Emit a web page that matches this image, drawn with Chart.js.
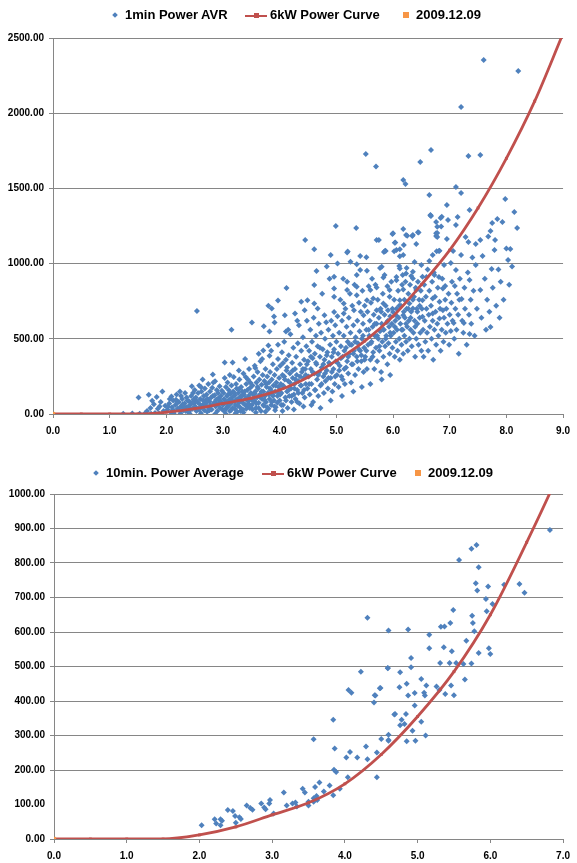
<!DOCTYPE html>
<html>
<head>
<meta charset="utf-8">
<script src="https://cdn.jsdelivr.net/npm/chart.js@4.4.1/dist/chart.umd.min.js"></script>
<style>
body { margin: 0; background: #fff; width: 577px; height: 863px; position: relative; overflow: hidden; }
canvas { position: absolute; left: 0; }
#c1 { top: 0; }
#c2 { top: 440px; }
.lg { position: absolute; font: bold 13px "Liberation Sans", Arial, sans-serif; color: #000; white-space: nowrap; line-height: 14px; }
.dia { position: absolute; width: 4px; height: 4px; background: #4f81bd; transform: rotate(45deg); }
.sq { position: absolute; width: 6px; height: 6px; background: #f79646; }
.ln { position: absolute; height: 2px; background: #c0504d; }
.mk { position: absolute; width: 5px; height: 5px; background: #c0504d; }
</style>
</head>
<body>
<canvas id="c1" width="577" height="440"></canvas>
<canvas id="c2" width="577" height="423"></canvas>

<!-- legends -->
<div class="dia" style="left:113px;top:13px"></div>
<div class="lg" style="left:125px;top:8px">1min Power AVR</div>
<div class="ln" style="left:245px;top:15px;width:22px"></div>
<div class="mk" style="left:254px;top:13px"></div>
<div class="lg" style="left:270px;top:8px">6kW Power Curve</div>
<div class="sq" style="left:403px;top:12px"></div>
<div class="lg" style="left:416px;top:8px">2009.12.09</div>

<div class="dia" style="left:94px;top:471px"></div>
<div class="lg" style="left:106px;top:466px">10min. Power Average</div>
<div class="ln" style="left:262px;top:473px;width:22px"></div>
<div class="mk" style="left:271px;top:471px"></div>
<div class="lg" style="left:287px;top:466px">6kW Power Curve</div>
<div class="sq" style="left:415px;top:470px"></div>
<div class="lg" style="left:428px;top:466px">2009.12.09</div>

<script>
// power curve (kW) read at 0.5 m/s steps
const curveSpeed = [0, 0.5, 1.0, 1.5, 2.0, 2.5, 3.0, 3.5, 4.0, 4.5, 5.0, 5.5, 6.0, 6.5, 7.0, 7.5, 8.0, 8.5, 9.0];
const curvePower = [0, 0, 0, 0, 12, 35, 70, 105, 160, 245, 355, 485, 650, 860, 1090, 1370, 1700, 2080, 2530];

// reference point 2009.12.09
const refPoint = [0, 0];

// 1 min averages: speed, power pairs
const avr1min = [
  1.24,2, 1.40,3, 1.53,1, 1.62,4, 1.73,2, 1.80,6, 1.87,3, 1.51,110, 1.69,128, 1.83,113, 1.93,150, 1.72,40, 1.78,65, 1.85,35, 1.90,80, 1.95,20, 1.98,55, 1.66,20, 1.75,88, 1.88,50,
  2.02,30, 2.05,70, 2.08,10, 2.09,117, 2.10,45, 2.12,90, 2.14,20, 2.16,60, 2.18,130, 2.20,35, 2.22,80, 2.24,150, 2.25,5, 2.27,55, 2.28,100, 2.30,25, 2.32,70, 2.33,140, 2.35,45, 2.36,110, 2.38,15, 2.40,85, 2.41,3, 2.42,60, 2.44,120, 2.45,184, 2.46,35, 2.48,95, 2.49,70, 2.50,160, 2.06,100, 2.13,5, 2.19,75, 2.26,120, 2.31,40, 2.37,90, 2.43,30, 2.47,140, 2.54,685,
  2.03,50, 2.11,25, 2.17,95, 2.23,40, 2.29,65, 2.34,20, 2.39,50, 2.46,75, 2.52,90, 2.58,30, 2.64,60, 2.70,95, 2.76,25, 2.82,120, 2.88,70, 2.94,90,
  2.51,50, 2.52,110, 2.53,20, 2.55,80, 2.56,140, 2.57,35, 2.58,190, 2.59,65, 2.60,100, 2.61,5, 2.62,150, 2.63,45, 2.65,90, 2.66,120, 2.67,25, 2.68,170, 2.69,70, 2.70,55, 2.71,130, 2.72,15, 2.73,100, 2.74,200, 2.75,40, 2.76,85, 2.77,150, 2.78,60, 2.79,110, 2.80,30, 2.81,175, 2.82,262, 2.83,210, 2.84,75, 2.85,125, 2.86,217, 2.87,50, 2.88,95, 2.89,160, 2.90,20, 2.91,140, 2.92,65, 2.93,105, 2.94,185, 2.95,40, 2.96,120, 2.97,80, 2.98,155, 2.99,30, 2.64,230, 2.86,0, 2.61,180, 2.72,80, 2.90,100,
  3.00,60, 3.01,140, 3.02,100, 3.03,240, 3.03,343, 3.04,30, 3.05,180, 3.06,80, 3.07,120, 3.08,210, 3.09,50, 3.10,160, 3.11,95, 3.12,20, 3.13,135, 3.14,70, 3.15,560, 3.15,190, 3.16,110, 3.17,343, 3.17,40, 3.18,150, 3.19,246, 3.20,85, 3.21,125, 3.22,60, 3.23,200, 3.24,170, 3.25,15, 3.26,100, 3.27,140, 3.28,75, 3.29,230, 3.30,45, 3.31,115, 3.32,180, 3.33,90, 3.34,150, 3.35,30, 3.36,270, 3.37,130, 3.38,65, 3.39,366, 3.40,246, 3.40,105, 3.41,200, 3.42,55, 3.43,160, 3.44,85, 3.45,120, 3.46,300, 3.47,40, 3.48,175, 3.49,140, 3.50,95, 3.05,0, 3.22,5, 3.36,10, 3.12,260, 3.28,290, 3.44,230,
  3.02,20, 3.04,75, 3.07,45, 3.09,130, 3.11,65, 3.14,25, 3.16,85, 3.19,140, 3.21,35, 3.23,95, 3.26,55, 3.28,165, 3.31,20, 3.33,120, 3.36,70, 3.38,150, 3.41,35, 3.43,100, 3.46,65, 3.48,210,
  3.51,609, 3.51,60, 3.52,190, 3.53,130, 3.54,250, 3.55,90, 3.56,320, 3.57,306, 3.57,150, 3.58,40, 3.59,210, 3.60,110, 3.61,280, 3.62,170, 3.63,75, 3.64,230, 3.65,130, 3.66,350, 3.67,20, 3.68,195, 3.69,366, 3.69,100, 3.70,260, 3.71,423, 3.71,150, 3.72,583, 3.72,55, 3.73,220, 3.74,120, 3.75,300, 3.76,80, 3.77,180, 3.78,250, 3.79,140, 3.80,720, 3.80,456, 3.80,35, 3.81,210, 3.82,549, 3.82,388, 3.82,100, 3.83,280, 3.84,160, 3.85,60, 3.86,702, 3.86,230, 3.87,130, 3.88,330, 3.89,190, 3.90,649, 3.90,90, 3.91,609, 3.91,260, 3.92,150, 3.93,45, 3.94,210, 3.95,300, 3.96,120, 3.97,755, 3.97,461, 3.97,366, 3.98,180, 3.99,240, 3.58,10, 3.75,15, 3.92,25, 3.63,400, 3.85,420,
  3.52,30, 3.54,85, 3.56,135, 3.59,70, 3.61,180, 3.63,40, 3.66,110, 3.68,150, 3.71,60, 3.73,95, 3.76,200, 3.78,45, 3.81,130, 3.83,170, 3.86,80, 3.88,120, 3.91,50, 3.93,190, 3.96,75, 3.98,140,
  4.00,90, 4.01,320, 4.02,200, 4.03,140, 4.04,410, 4.05,260, 4.06,339, 4.06,60, 4.07,180, 4.08,480, 4.09,657, 4.09,230, 4.10,110, 4.11,549, 4.11,360, 4.12,837, 4.12,290, 4.13,150, 4.14,40, 4.15,220, 4.16,390, 4.17,120, 4.18,270, 4.19,530, 4.20,170, 4.21,80, 4.22,340, 4.23,240, 4.24,440, 4.25,130, 4.26,200, 4.27,668, 4.27,300, 4.28,100, 4.29,380, 4.30,260, 4.31,160, 4.32,470, 4.33,220, 4.34,590, 4.35,70, 4.36,330, 4.37,190, 4.38,746, 4.38,420, 4.39,280, 4.40,140, 4.41,510, 4.42,240, 4.43,360, 4.44,690, 4.44,110, 4.45,1157, 4.45,300, 4.46,200, 4.47,450, 4.48,620, 4.49,757, 4.49,170, 4.50,350, 4.05,20, 4.25,30, 4.42,50, 4.15,560, 4.31,620,
  4.01,130, 4.03,60, 4.06,190, 4.08,250, 4.11,90, 4.13,310, 4.16,160, 4.18,210, 4.21,120, 4.23,290, 4.26,170, 4.28,230, 4.31,80, 4.33,140, 4.36,250, 4.38,190, 4.41,300, 4.43,160, 4.46,260, 4.48,330,
  4.51,250, 4.52,420, 4.53,130, 4.54,560, 4.55,300, 4.56,200, 4.57,480, 4.58,370, 4.59,80, 4.60,640, 4.61,1095, 4.61,857, 4.61,735, 4.61,270, 4.62,400, 4.63,160, 4.64,520, 4.65,330, 4.66,230, 4.67,702, 4.67,450, 4.68,120, 4.69,600, 4.70,280, 4.71,380, 4.72,190, 4.73,540, 4.74,310, 4.75,800, 4.76,430, 4.77,250, 4.78,140, 4.79,657, 4.79,360, 4.80,500, 4.81,220, 4.82,610, 4.83,290, 4.84,410, 4.85,170, 4.86,560, 4.87,340, 4.88,900, 4.89,460, 4.90,1057, 4.90,240, 4.91,620, 4.92,380, 4.93,150, 4.94,520, 4.95,300, 4.96,912, 4.96,835, 4.96,779, 4.96,679, 4.96,430, 4.97,200, 4.98,590, 4.99,1250, 4.99,350, 5.00,480, 4.56,60, 4.72,40, 4.90,90, 4.65,950, 4.83,980,
  4.52,200, 4.55,380, 4.58,280, 4.62,160, 4.64,340, 4.68,260, 4.71,440, 4.74,200, 4.77,330, 4.80,270, 4.83,390, 4.86,240, 4.89,330, 4.92,280, 4.95,410, 4.98,250, 5.02,340, 5.05,290, 5.08,370, 5.11,230, 5.14,420, 5.17,310, 5.21,380, 5.24,460, 5.27,330, 5.30,400, 5.33,480, 5.37,350, 5.40,430, 5.44,390, 5.47,520, 5.50,360,
  5.01,260, 5.02,1001, 5.02,650, 5.03,400, 5.04,180, 5.05,540, 5.06,320, 5.07,760, 5.08,450, 5.09,250, 5.10,620, 5.11,380, 5.12,900, 5.13,735, 5.13,668, 5.13,520, 5.14,300, 5.15,200, 5.16,700, 5.17,440, 5.18,580, 5.19,1073, 5.19,879, 5.19,824, 5.19,350, 5.20,1080, 5.20,480, 5.21,270, 5.22,640, 5.23,400, 5.24,800, 5.25,1012, 5.25,540, 5.26,210, 5.27,460, 5.28,720, 5.29,330, 5.30,590, 5.31,690, 5.31,420, 5.32,860, 5.33,260, 5.34,510, 5.35,1236, 5.36,995, 5.36,924, 5.36,846, 5.36,790, 5.36,380, 5.37,620, 5.38,470, 5.39,300, 5.40,740, 5.41,550, 5.42,1050, 5.42,957, 5.42,420, 5.43,680, 5.44,350, 5.45,500, 5.46,820, 5.47,600, 5.48,657, 5.48,280, 5.49,440, 5.50,720, 5.10,120, 5.30,150, 5.45,180,
  5.51,380, 5.52,1729, 5.53,1042, 5.53,560, 5.54,953, 5.54,757, 5.54,300, 5.55,680, 5.56,460, 5.57,850, 5.58,520, 5.59,620, 5.60,824, 5.60,360, 5.61,740, 5.62,480, 5.63,900, 5.64,580, 5.65,768, 5.65,410, 5.66,660, 5.67,300, 5.68,520, 5.69,860, 5.70,1645, 5.70,440, 5.71,1157, 5.71,841, 5.71,690, 5.71,600, 5.72,350, 5.73,760, 5.74,500, 5.75,1157, 5.75,640, 5.76,420, 5.77,971, 5.77,550, 5.78,700, 5.79,280, 5.80,979, 5.80,600, 5.81,480, 5.82,800, 5.83,908, 5.83,735, 5.83,380, 5.84,1077, 5.84,560, 5.85,924, 5.85,660, 5.86,1086, 5.86,450, 5.87,1084, 5.87,720, 5.88,520, 5.89,610, 5.90,850, 5.90,330, 5.91,690, 5.92,470, 5.93,580, 5.94,824, 5.94,779, 5.94,400, 5.95,650, 5.96,520, 5.97,880, 5.98,600, 5.99,1197, 5.99,440, 6.00,1201, 6.00,679, 5.60,200, 5.80,230, 5.95,260,
  5.53,420, 5.57,560, 5.61,470, 5.64,380, 5.68,600, 5.72,520, 5.76,450, 5.79,680, 5.83,560, 5.87,500, 5.91,620, 5.95,540, 5.99,700, 6.03,580, 6.07,650, 6.11,720, 6.15,560, 6.19,680, 6.23,600, 6.27,700, 6.31,640, 6.35,760, 6.39,580, 6.43,680, 6.47,720,
  6.01,540, 6.02,1082, 6.02,760, 6.03,1139, 6.03,380, 6.04,1140, 6.04,620, 6.05,480, 6.06,1090, 6.06,911, 6.06,890, 6.06,700, 6.07,560, 6.08,420, 6.09,820, 6.10,640, 6.11,984, 6.11,500, 6.12,1095, 6.12,968, 6.12,757, 6.12,1049, 6.12,360, 6.13,600, 6.14,720, 6.15,460, 6.16,860, 6.17,924, 6.17,560, 6.18,1556, 6.18,1230, 6.18,1057, 6.18,828, 6.18,657, 6.18,400, 6.19,1124, 6.20,760, 6.20,520, 6.21,640, 6.22,1529, 6.22,880, 6.23,1190, 6.23,935, 6.23,480, 6.24,971, 6.24,700, 6.25,1186, 6.25,580, 6.26,420, 6.27,800, 6.28,620, 6.29,735, 6.29,500, 6.30,860, 6.31,560, 6.32,918, 6.32,680, 6.33,450, 6.34,1183, 6.35,1190, 6.35,946, 6.35,901, 6.35,702, 6.36,540, 6.37,780, 6.38,1011, 6.38,620, 6.39,380, 6.40,840, 6.41,1131, 6.41,824, 6.41,500, 6.42,700, 6.43,600, 6.44,1208, 6.44,880, 6.45,1206, 6.45,460, 6.46,760, 6.47,640, 6.48,1676, 6.48,540, 6.49,820, 6.50,990, 6.50,420,
  6.51,700, 6.52,912, 6.52,757, 6.52,646, 6.53,560, 6.54,380, 6.55,860, 6.56,620, 6.57,480, 6.58,780, 6.59,911, 6.59,700, 6.60,540, 6.61,960, 6.62,420, 6.63,660, 6.64,1456, 6.64,1017, 6.64,820, 6.65,580, 6.66,1320, 6.66,1323, 6.67,1755, 6.67,1316, 6.67,720, 6.68,500, 6.69,880, 6.70,1057, 6.70,768, 6.70,668, 6.70,620, 6.71,360, 6.72,940, 6.73,924, 6.73,560, 6.74,780, 6.75,680, 6.76,1276, 6.76,1201, 6.76,1183, 6.76,460, 6.77,1082, 6.78,1245, 6.78,1203, 6.78,1177, 6.78,600, 6.79,840, 6.80,520, 6.81,1084, 6.81,911, 6.82,1086, 6.82,746, 6.82,635, 6.83,700, 6.84,1303, 6.84,420, 6.85,1246, 6.86,1312, 6.86,560, 6.87,900, 6.88,835, 6.88,690, 6.89,480, 6.90,990, 6.90,640, 6.92,851, 6.92,760, 6.93,540, 6.94,700, 6.95,1390, 6.95,1164, 6.96,600, 6.97,1290, 6.98,800, 6.99,460, 7.00,660,
  7.02,1004, 7.02,552, 7.03,740, 7.04,880, 7.05,620, 7.06,1084, 7.07,605, 7.08,500, 7.09,851, 7.10,700, 7.11,1509, 7.11,1257, 7.11,957, 7.12,560, 7.13,800, 7.14,1310, 7.15,660, 7.16,400, 7.17,760, 7.18,900, 7.20,2041, 7.20,1470, 7.20,1057, 7.21,765, 7.22,620, 7.24,540, 7.25,605, 7.26,840, 7.27,700, 7.28,1177, 7.30,460, 7.32,940, 7.33,1715, 7.33,1144, 7.34,660, 7.35,1356, 7.35,891, 7.35,532, 7.37,760, 7.38,600, 7.40,1040, 7.42,820, 7.44,520, 7.46,990, 7.46,1130, 7.48,700,
  7.54,1722, 7.54,1157, 7.54,824, 7.56,640, 7.58,1050, 7.60,2354, 7.62,900, 7.64,560, 7.66,760, 7.68,1180, 7.70,680, 7.72,1217, 7.72,578, 7.74,964, 7.75,1270, 7.76,840, 7.79,1090, 7.80,1157, 7.82,720, 7.84,1297, 7.86,960, 7.88,640, 7.90,880, 7.93,1277, 7.95,760, 7.98,1430, 8.00,1100, 8.03,1024, 8.05,860, 8.07,1097, 8.10,980, 8.14,1343, 8.19,1237, 8.21,2281
];

// 10 min averages: speed, power pairs
const avr10min = [
  2.03,40, 2.21,57, 2.29,57, 2.23,45, 2.29,40, 2.31,53, 2.39,84, 2.46,81, 2.49,67, 2.55,63, 2.57,58, 2.50,47, 2.65,97, 2.70,90, 2.73,85, 2.85,103, 2.89,91, 2.91,86, 2.97,113, 2.96,103,
  3.02,74, 3.16,135, 3.20,97, 3.28,103, 3.34,94, 3.32,106, 3.42,146, 3.45,135, 3.50,108, 3.50,97, 3.57,108, 3.62,113, 3.57,118, 3.61,125, 3.59,151, 3.65,164, 3.71,138, 3.79,155, 3.84,127, 3.93,146, 3.57,289, 3.84,346, 3.86,262, 3.85,201, 3.88,194,
  4.02,236, 4.07,252, 4.04,179, 4.05,432, 4.09,424, 4.17,236, 4.22,485, 4.29,268, 4.31,641, 4.31,231, 4.40,396, 4.41,417, 4.48,437, 4.44,251, 4.44,179, 4.50,290, 4.60,287, 4.59,495, 4.60,604, 4.68,361,
  6.82,896, 5.74,841, 5.81,852, 5.57,809, 5.84,788, 5.80,741, 5.82,720, 5.97,732, 6.19,737, 6.40,739, 6.47,714, 5.94,696, 6.03,681, 5.95,660, 5.49,664, 5.75,647, 5.76,626, 5.45,626, 5.37,616, 5.32,615, 5.78,602, 4.87,607, 5.16,592, 5.67,575, 5.16,553, 5.36,556, 5.47,544, 5.84,539, 5.98,553, 6.00,536,
  4.91,525, 5.31,510, 5.44,510, 5.53,510, 5.63,507, 5.74,509, 4.59,496, 4.91,498, 4.76,483, 5.05,464, 5.65,462, 4.49,438, 4.42,416, 4.75,440, 4.85,450, 5.12,445, 5.26,442, 5.30,432, 5.46,445, 4.87,416, 4.96,423, 5.09,424, 5.10,416, 5.38,420, 5.50,417,
  4.96,387, 4.69,362, 4.84,362, 5.05,340, 4.76,330, 4.82,333, 4.78,346, 4.93,314, 4.60,302, 5.11,300, 4.60,285, 4.85,283, 4.97,285
];

const BLUE = '#4f81bd', RED = '#c0504d', ORANGE = '#f79646', GRID = '#868686';
const FONT = { family: '"Liberation Sans", Arial, sans-serif', size: 10, weight: 'bold' };

function pairs(a) {
    const out = [];
    for (let i = 0; i < a.length; i += 2) out.push({ x: a[i], y: a[i + 1] });
    return out;
}

function makeChart(id, scatter, xMax, yMax, yStep, pad, yWidth, xHeight, hideGrid) {
    const curve = curveSpeed.map((s, i) => ({ x: s, y: curvePower[i] }));
    return new Chart(document.getElementById(id), {
        type: 'scatter',
        data: {
            datasets: [
                { data: [{ x: refPoint[0], y: refPoint[1] }], pointStyle: 'rect', pointRadius: 3, backgroundColor: ORANGE, borderWidth: 0, order: 1 },
                { data: curve, showLine: true, borderColor: RED, borderWidth: 2.8, backgroundColor: RED, pointStyle: 'rect', pointRadius: 2, pointBorderWidth: 0, cubicInterpolationMode: 'monotone', order: 2 },
                { data: pairs(scatter), pointStyle: 'rectRot', pointRadius: 3, backgroundColor: BLUE, borderWidth: 0, order: 3 }
            ]
        },
        options: {
            responsive: false,
            animation: false,
            layout: { padding: pad },
            plugins: { legend: { display: false }, tooltip: { enabled: false } },
            scales: {
                x: {
                    type: 'linear', min: 0, max: xMax,
                    afterFit: s => { s.height = xHeight; },
                    ticks: { stepSize: 1, callback: v => v.toFixed(1), color: '#000', font: FONT, padding: 7, maxRotation: 0 },
                    grid: { drawOnChartArea: false, drawTicks: true, tickLength: 4, color: GRID },
                    border: { color: GRID, width: 1 }
                },
                y: {
                    min: 0, max: yMax,
                    afterFit: s => { s.width = yWidth; },
                    ticks: { stepSize: yStep, callback: v => v.toFixed(2), color: '#000', font: FONT, padding: 5 },
                    grid: { color: c => (hideGrid && c.tick && c.tick.value === hideGrid) ? 'rgba(0,0,0,0)' : GRID, lineWidth: 1, tickLength: 4 },
                    border: { color: GRID, width: 1 }
                }
            }
        }
    });
}

makeChart('c1', avr1min, 9, 2500, 500, { top: 38, right: 11, left: 0, bottom: 0 }, 53, 26, null);
makeChart('c2', avr10min, 7, 1000, 100, { top: 54, right: 7, left: 0, bottom: 0 }, 54, 24, 100);
</script>
</body>
</html>
